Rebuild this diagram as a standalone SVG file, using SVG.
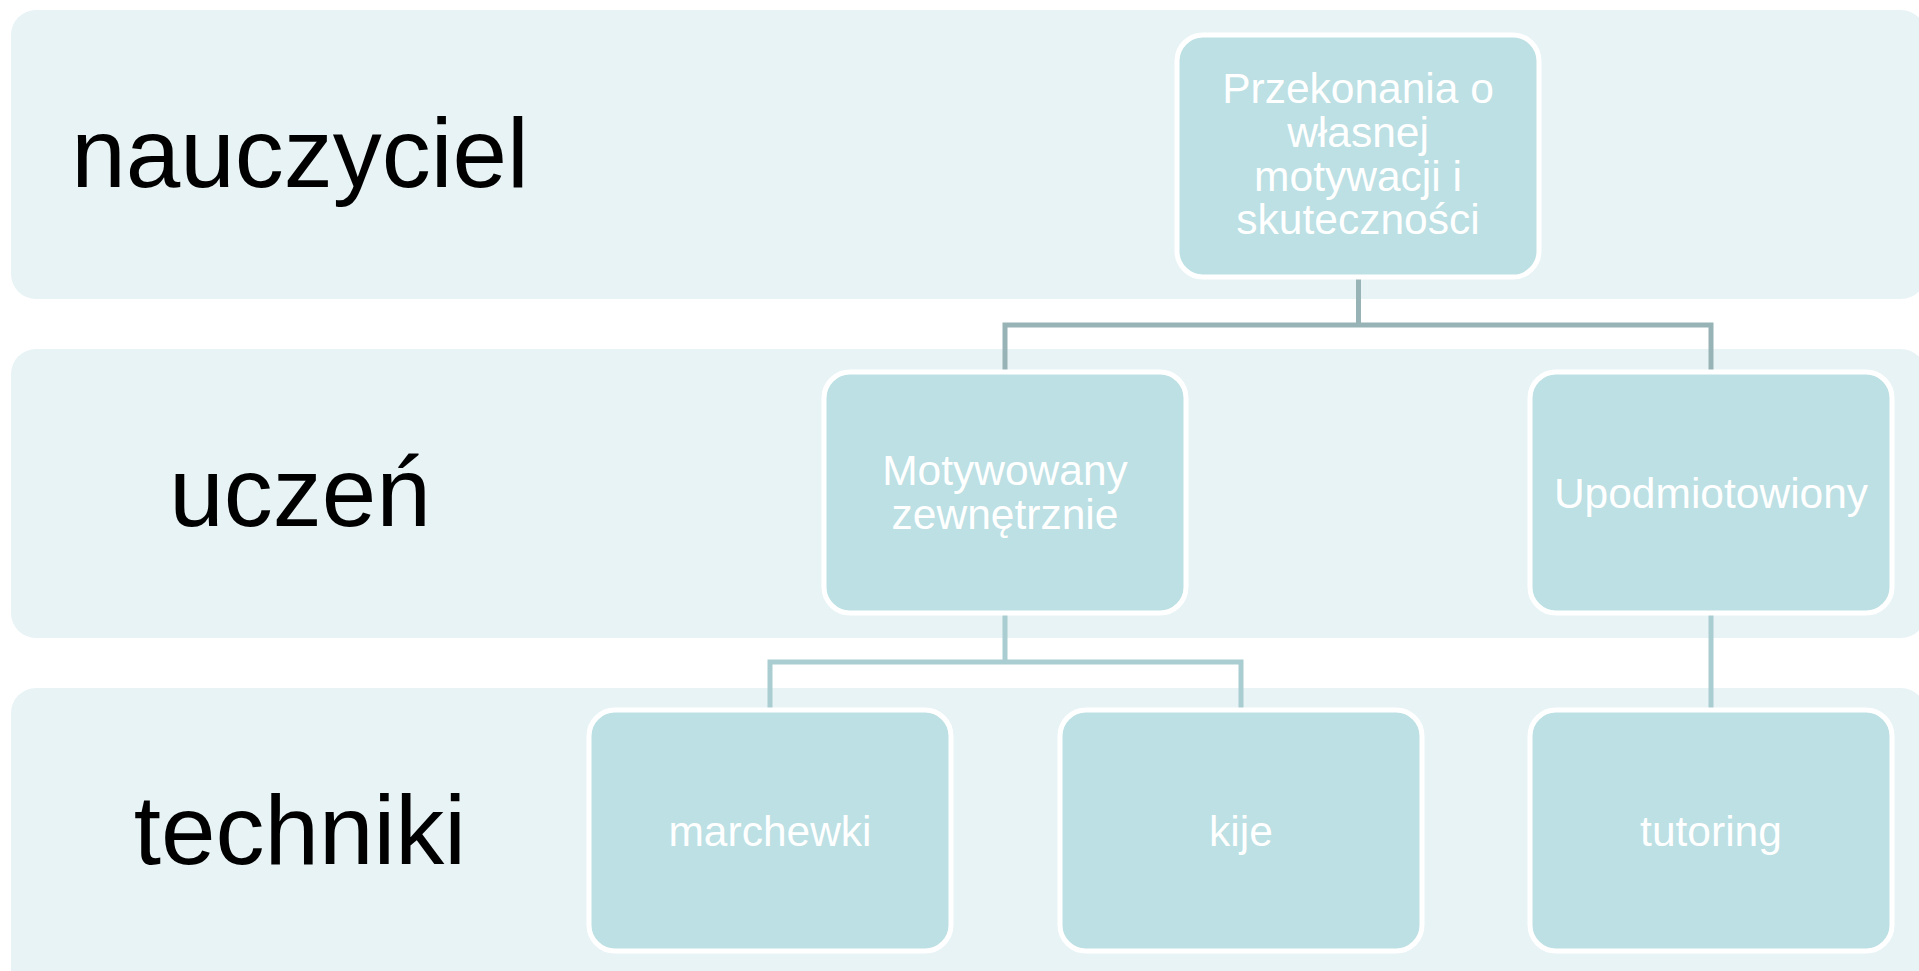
<svg xmlns="http://www.w3.org/2000/svg" width="1919" height="971" viewBox="0 0 1919 971">
<style>
.band{fill:#e8f3f5}
.box{fill:#bce0e3;stroke:#ffffff;stroke-width:5}
.lbl{font-family:"Liberation Sans",Arial,sans-serif;font-size:98px;fill:#000;text-anchor:middle}
.nt{font-family:"Liberation Sans",Arial,sans-serif;font-size:42.5px;fill:#ffffff;text-anchor:middle}
.c1{fill:none;stroke:#97b3b6;stroke-width:5}
.c2{fill:none;stroke:#a9cdd0;stroke-width:5}
</style>
<rect width="1919" height="971" fill="#ffffff"/>
<g id="bands">
<rect class="band" x="11" y="10" width="1915" height="289" rx="25"/>
<rect class="band" x="11" y="349" width="1915" height="289" rx="25"/>
<rect class="band" x="11" y="688" width="1915" height="320" rx="25"/>
<text class="lbl" x="300" y="187">nauczyciel</text>
<text class="lbl" x="300" y="526">uczeń</text>
<text class="lbl" x="300" y="864">techniki</text>
</g>
<g id="connectors">
<path class="c1" d="M1358.5 277 V325 M1005 325 H1711 M1005 322.5 V372 M1711 322.5 V372"/>
<path class="c2" d="M1005 613 V662 M770 662 H1241 M770 659.5 V710 M1241 659.5 V710"/>
<path class="c2" d="M1711 613 V710"/>
</g>
<g id="n-top">
<rect class="box" x="1177" y="35" width="362" height="242" rx="26"/>
<text class="nt" x="1358" y="103">Przekonania o</text>
<text class="nt" x="1358" y="147">własnej</text>
<text class="nt" x="1358" y="191">motywacji i</text>
<text class="nt" x="1358" y="234">skuteczności</text>
</g>
<g id="n-motywowany">
<rect class="box" x="824" y="372" width="362" height="241" rx="26"/>
<text class="nt" x="1005" y="485">Motywowany</text>
<text class="nt" x="1005" y="529">zewnętrznie</text>
</g>
<g id="n-upodmiotowiony">
<rect class="box" x="1530" y="372" width="362" height="241" rx="26"/>
<text class="nt" x="1711" y="508">Upodmiotowiony</text>
</g>
<g id="n-marchewki">
<rect class="box" x="589" y="710" width="362" height="241" rx="26"/>
<text class="nt" x="770" y="846">marchewki</text>
</g>
<g id="n-kije">
<rect class="box" x="1060" y="710" width="362" height="241" rx="26"/>
<text class="nt" x="1241" y="846">kije</text>
</g>
<g id="n-tutoring">
<rect class="box" x="1530" y="710" width="362" height="241" rx="26"/>
<text class="nt" x="1711" y="846">tutoring</text>
</g>
</svg>
